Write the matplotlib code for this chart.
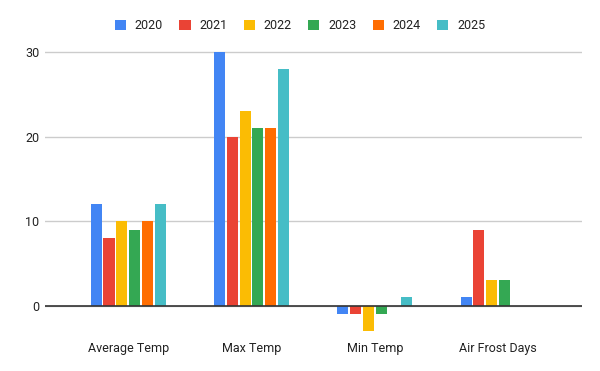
import numpy as np
import matplotlib
matplotlib.use("Agg")
import matplotlib.pyplot as plt
from matplotlib.patches import Patch

categories = ["Average Temp", "Max Temp", "Min Temp", "Air Frost Days"]
years = ["2020", "2021", "2022", "2023", "2024", "2025"]
v2020 = [12, 30, -1, 1]
v2021 = [8, 20, -1, 9]
v2022 = [10, 23, -3, 3]
v2023 = [9, 21, -1, 3]
v2024 = [10, 21, 0, 0]
v2025 = [12, 28, 1, 0]
series = [v2020, v2021, v2022, v2023, v2024, v2025]
colors = ["#4285f4", "#ea4335", "#fbbc04", "#34a853", "#ff6d01", "#46bdc6"]

plt.rcParams['font.family'] = ['Roboto', 'DejaVu Sans']

fig = plt.figure(figsize=(6, 3.71), dpi=100)
ax = fig.add_axes([0.075, 0.108, 0.895, 0.765])

x = np.arange(len(categories))
step = 0.104
width = 0.09
for i, (vals, c) in enumerate(zip(series, colors)):
    ax.bar(x + (i - 2.5) * step, vals, width, color=c, zorder=3)

ax.set_xlim(-0.675, 3.68)
ax.set_ylim(-3, 30.6)
ax.set_yticks([0, 10, 20, 30])
ax.yaxis.grid(True, color="#cccccc", linewidth=1, zorder=0)
ax.axhline(0, color="#333333", linewidth=1.2, zorder=4)
ax.set_xticks(x)
ax.set_xticklabels(categories)
ax.tick_params(length=0, labelsize=9, colors="#222222")
ax.tick_params(axis="x", pad=8)
ax.tick_params(axis="y", pad=4)
for s in ax.spines.values():
    s.set_visible(False)

handles = [Patch(facecolor=c, label=y) for c, y in zip(colors, years)]
fig.legend(handles=handles, loc="center", bbox_to_anchor=(0.5, 0.93),
           ncol=6, frameon=False, fontsize=9, handlelength=0.9, handleheight=0.9,
           columnspacing=1.3, handletextpad=0.7, labelcolor="#222222")

fig.savefig("out.png", dpi=100)
